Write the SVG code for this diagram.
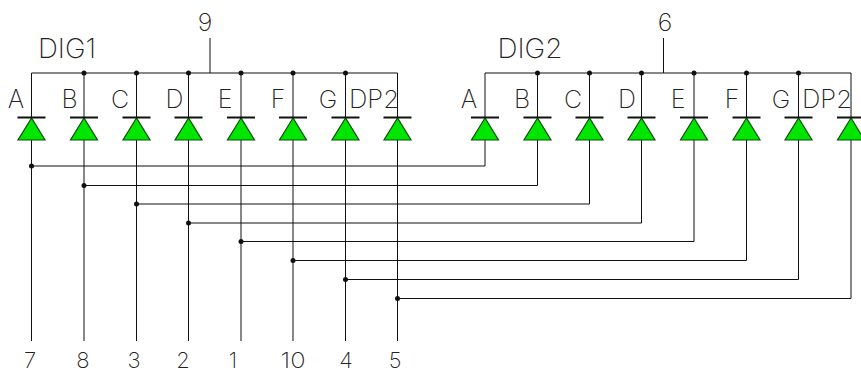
<svg xmlns="http://www.w3.org/2000/svg" width="861" height="373" viewBox="0 0 861 373">
<style>
text{font-family:"Inter","Roboto","Liberation Sans",sans-serif;font-weight:200;font-size:25px;fill:#222;text-anchor:middle}
.n{font-size:22px}
.t{font-size:27px}
.w{fill:none;stroke:#111;stroke-width:1}
.d{fill:#111;stroke:none}
.bar{stroke:#111;stroke-width:2;fill:none}
.tri{fill:#00e600;stroke:#0a500a;stroke-width:1.2}
</style>
<defs>
<g id="led"><path class="tri" d="M0 118 L-13.5 140 H13.5 Z"/><path class="bar" d="M-14 117.5 H14"/></g>
</defs>
<rect width="861" height="373" fill="#fff"/>
<g id="connectors">
<path class="w" d="M31.5 118V73H397.5V118M84 73V118M136.5 73V118M188.5 73V118M241 73V118M293 73V118M345.5 73V118M210 38V73"/>
<path class="w" d="M485 118V73H851V118M537.5 73V118M589.5 73V118M641.5 73V118M694 73V118M746.5 73V118M798.5 73V118M663.5 38V73"/>
<path class="w" d="M31.5 140V341M84 140V341M136.5 140V341M188.5 140V341M241 140V341M293 140V341M345.5 140V341M397.5 140V341"/>
<path class="w" d="M31.5 166H485V140M84 185.5H537.5V140M136.5 204H589.5V140M188.5 223H641.5V140M241 241.5H694V140M293 260.5H746.5V140M345.5 279.5H798.5V140M397.5 298.5H851V140"/>
<g class="d">
<circle cx="84" cy="73" r="2.5"/><circle cx="136.5" cy="73" r="2.5"/><circle cx="188.5" cy="73" r="2.5"/><circle cx="241" cy="73" r="2.5"/><circle cx="293" cy="73" r="2.5"/><circle cx="345.5" cy="73" r="2.5"/>
<circle cx="537.5" cy="73" r="2.5"/><circle cx="589.5" cy="73" r="2.5"/><circle cx="641.5" cy="73" r="2.5"/><circle cx="694" cy="73" r="2.5"/><circle cx="746.5" cy="73" r="2.5"/><circle cx="798.5" cy="73" r="2.5"/>
<circle cx="31.5" cy="166" r="2.5"/><circle cx="84" cy="185.5" r="2.5"/><circle cx="136.5" cy="204" r="2.5"/><circle cx="188.5" cy="223" r="2.5"/><circle cx="241" cy="241.5" r="2.5"/><circle cx="293" cy="260.5" r="2.5"/><circle cx="345.5" cy="279.5" r="2.5"/><circle cx="397.5" cy="298.5" r="2.5"/>
</g>
</g>
<g id="dig1-a"><use href="#led" x="31.5"/><text x="16" y="108">A</text></g>
<g id="dig1-b"><use href="#led" x="84"/><text x="69.5" y="108">B</text></g>
<g id="dig1-c"><use href="#led" x="136.5"/><text x="120" y="108">C</text></g>
<g id="dig1-d"><use href="#led" x="188.5"/><text x="174.5" y="108">D</text></g>
<g id="dig1-e"><use href="#led" x="241"/><text x="225" y="108">E</text></g>
<g id="dig1-f"><use href="#led" x="293"/><text x="278" y="108">F</text></g>
<g id="dig1-g"><use href="#led" x="345.5"/><text x="328" y="108">G</text></g>
<g id="dig1-dp2"><use href="#led" x="397.5"/><text x="374" y="108" textLength="50" lengthAdjust="spacingAndGlyphs">DP2</text></g>
<g id="dig2-a"><use href="#led" x="485"/><text x="469" y="108">A</text></g>
<g id="dig2-b"><use href="#led" x="537.5"/><text x="522" y="108">B</text></g>
<g id="dig2-c"><use href="#led" x="589.5"/><text x="573" y="108">C</text></g>
<g id="dig2-d"><use href="#led" x="641.5"/><text x="627" y="108">D</text></g>
<g id="dig2-e"><use href="#led" x="694"/><text x="678" y="108">E</text></g>
<g id="dig2-f"><use href="#led" x="746.5"/><text x="732" y="108">F</text></g>
<g id="dig2-g"><use href="#led" x="798.5"/><text x="781" y="108">G</text></g>
<g id="dig2-dp2"><use href="#led" x="851"/><text x="827" y="108" textLength="50" lengthAdjust="spacingAndGlyphs">DP2</text></g>
<g id="labels">
<text class="t" x="67" y="58" textLength="58" lengthAdjust="spacingAndGlyphs">DIG1</text>
<text class="t" x="530" y="58" textLength="65" lengthAdjust="spacingAndGlyphs">DIG2</text>
<text x="205" y="31">9</text>
<text x="665" y="31">6</text>
<text class="n" x="30" y="367.5">7</text>
<text class="n" x="83" y="367.5">8</text>
<text class="n" x="134" y="367.5">3</text>
<text class="n" x="183" y="367.5">2</text>
<text class="n" x="233" y="367.5">1</text>
<text class="n" x="293" y="367.5" textLength="25" lengthAdjust="spacingAndGlyphs">10</text>
<text class="n" x="346" y="367.5">4</text>
<text class="n" x="395" y="367.5">5</text>
</g>
</svg>
